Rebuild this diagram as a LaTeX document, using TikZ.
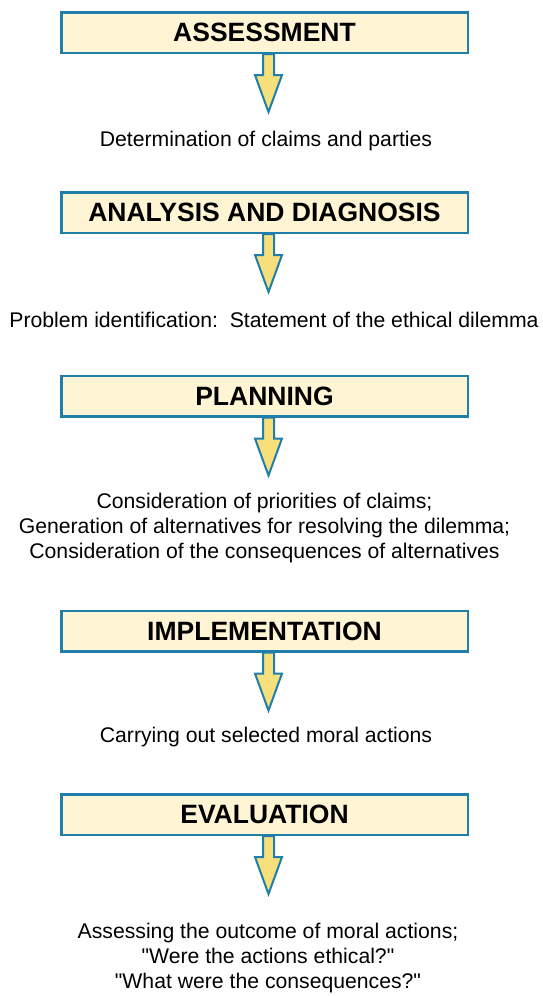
\documentclass[tikz,border=0pt]{standalone}
\usepackage{fontspec}
\setmainfont{Liberation Sans}
\usetikzlibrary{positioning}
\definecolor{stageblue}{HTML}{1F7FAA}
\definecolor{stagefill}{HTML}{FFF5D4}
\definecolor{arrowfill}{HTML}{F7DF7C}

\begin{document}
\begin{tikzpicture}[
    x=1pt, y=-1pt,
    stage/.style={draw=stageblue, line width=2.5pt, fill=stagefill, minimum width=406.5pt, minimum height=40.5pt, inner sep=0pt, font=\fontsize{26.5}{30}\selectfont\bfseries},
    note/.style={align=center, font=\fontsize{21.2}{25}\selectfont},
    flow/.style={draw=stageblue, line width=2pt, fill=arrowfill, line join=miter}
]
\useasboundingbox (0,0) rectangle (542,996);

\node[stage] (assess) at (264.5,32.5) {ASSESSMENT};
\node[stage] (analysis) at (264.5,212.5) {ANALYSIS AND DIAGNOSIS};
\node[stage] (planning) at (264.5,396) {PLANNING};
\node[stage] (implement) at (264.5,631) {IMPLEMENTATION};
\node[stage] (evaluate) at (264.5,814.5) {EVALUATION};

\node[note] (claims) at (266,141) {Determination of claims and parties};
\node[note] (problem) at (274,320) {Problem identification:\ \ Statement of the ethical dilemma};
\node[note] (options) at (264.5,528) {Consideration of priorities of claims;\\Generation of alternatives for resolving the dilemma;\\Consideration of the consequences of alternatives};
\node[note] (actions) at (266,737) {Carrying out selected moral actions};
\node[note] (outcome) at (268,958) {Assessing the outcome of moral actions;\\\textquotedbl Were the actions ethical?\textquotedbl\\\textquotedbl What were the consequences?\textquotedbl};

% block arrows below each stage
\foreach \s in {assess,analysis,planning,implement,evaluate}
  \draw[flow] (\s.south) ++(-1.5,0) -- ++(0,21) -- ++(-8,0) -- ++(13.5,37)
    -- ++(13.5,-37) -- ++(-8,0) -- ++(0,-21) -- cycle;
\end{tikzpicture}
\end{document}
